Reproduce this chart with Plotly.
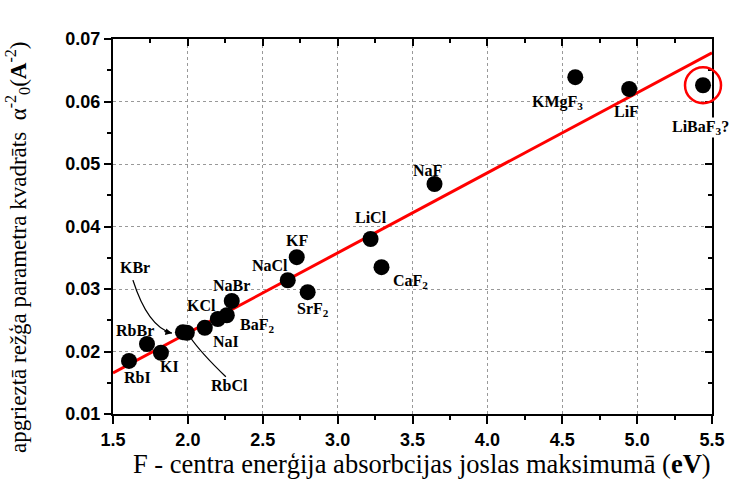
import plotly.graph_objects as go

# F-centre absorption maximum (eV) vs. inverse square of the lattice parameter
crystals = ["RbI", "RbBr", "KI", "KBr", "RbCl", "NaI", "KCl", "BaF<sub>2</sub>",
            "NaBr", "NaCl", "KF", "SrF<sub>2</sub>", "LiCl", "CaF<sub>2</sub>",
            "NaF", "KMgF<sub>3</sub>", "LiF", "LiBaF<sub>3</sub>?"]
energy_ev = [1.607, 1.727, 1.82, 1.967, 1.993, 2.113, 2.2, 2.26,
             2.293, 2.667, 2.727, 2.8, 3.22, 3.293,
             3.647, 4.587, 4.947, 5.44]
inv_a2 = [0.0185, 0.0212, 0.0198, 0.0231, 0.0230, 0.0238, 0.0252, 0.0258,
          0.0281, 0.0314, 0.0351, 0.0295, 0.0380, 0.0335,
          0.0468, 0.0639, 0.0620, 0.0626]

# linear fit  y = a + b*x
fit_a = -0.00266
fit_b = 0.01281

x_range = [1.5, 5.5]
y_range = [0.01, 0.07]

W, H = 731, 497
ML, MR, MT, MB = 113, 19, 39, 83
PW, PH = W - ML - MR, H - MT - MB
px_x = PW / (x_range[1] - x_range[0])
px_y = PH / (y_range[1] - y_range[0])

# label offsets in pixels (dx right, dy down)
label_off = {
    "RbI": (8, 17), "RbBr": (-12, -14), "KI": (9, 14), "KBr": None, "RbCl": None,
    "NaI": (21, 14), "KCl": (-16, -14), "BaF<sub>2</sub>": (30, 10),
    "NaBr": (0, -15), "NaCl": (-18, -15), "KF": (0, -17),
    "SrF<sub>2</sub>": (5, 17), "LiCl": (0, -22), "CaF<sub>2</sub>": (29, 14),
    "NaF": (-7, -14), "KMgF<sub>3</sub>": (-18, 25), "LiF": (-3, 22),
    "LiBaF<sub>3</sub>?": (3, 42),
}

lab_font = dict(family="Liberation Serif", size=16, color="black", weight="bold")

fig = go.Figure()

fx = list(x_range)
fy = [fit_a + fit_b * v for v in fx]
fig.add_trace(go.Scatter(x=fx, y=fy, mode="lines",
                         line=dict(color="#ff0000", width=3), showlegend=False,
                         hoverinfo="skip"))
fig.add_trace(go.Scatter(x=energy_ev, y=inv_a2, mode="markers",
                         marker=dict(color="black", size=16), showlegend=False,
                         text=crystals))
# empty trace that carries the mirrored top/right axes
fig.add_trace(go.Scatter(x=[], y=[], xaxis="x2", yaxis="y2", showlegend=False))

annotations = []
for name, x, y in zip(crystals, energy_ev, inv_a2):
    off = label_off[name]
    if off is None:
        continue
    ann = dict(x=x, y=y, xref="x", yref="y", text=name, showarrow=False,
               xshift=off[0], yshift=-off[1], font=lab_font)
    if "?" in name:
        # last label sits over the right frame: keep it inside the page
        ann.update(bgcolor="white", borderpad=0, xanchor="right", xshift=27)
    annotations.append(ann)

kbr_i = crystals.index("KBr")
rbcl_i = crystals.index("RbCl")


def to_data(x0, y0, dx, dy):
    return x0 + dx / px_x, y0 - dy / px_y


# KBr label with curved pointer
kx, ky = energy_ev[kbr_i], inv_a2[kbr_i]
annotations.append(dict(x=kx, y=ky, xref="x", yref="y", text="KBr", showarrow=False,
                        xshift=-48, yshift=65, font=lab_font))
p0 = to_data(kx, ky, -50, -52)
c = to_data(kx, ky, -35, -5)
p2 = to_data(kx, ky, -11, 1)
kbr_path = f"M {p0[0]},{p0[1]} Q {c[0]},{c[1]} {p2[0]},{p2[1]}"
annotations.append(dict(x=p2[0], y=p2[1], xref="x", yref="y", text="", showarrow=True,
                        ax=-9, ay=-2, arrowhead=2, arrowsize=1, arrowwidth=1.3,
                        arrowcolor="black"))

# RbCl label with curved pointer
rx, ry = energy_ev[rbcl_i], inv_a2[rbcl_i]
annotations.append(dict(x=rx, y=ry, xref="x", yref="y", text="RbCl", showarrow=False,
                        xshift=43, yshift=-53, font=lab_font))
q0 = to_data(rx, ry, 39, 44)
qc = to_data(rx, ry, 14, 20)
q2 = to_data(rx, ry, 3, 4)
rbcl_path = f"M {q0[0]},{q0[1]} Q {qc[0]},{qc[1]} {q2[0]},{q2[1]}"

title_font = dict(family="Liberation Serif", size=23, color="black")

# y-axis title
annotations.append(dict(
    x=(17 - ML) / PW, y=(H - MB - 247) / PH,
    xref="paper", yref="paper", xanchor="center", yanchor="middle",
    text="apgrieztā režģa parametra kvadrāts  α<sup>-2</sup><sub>0</sub>(<b>A</b><sup>-2</sup>)",
    textangle=-90, showarrow=False, font=title_font))

# x-axis title
annotations.append(dict(
    x=(422 - ML) / PW, y=(H - MB - 464) / PH,
    xref="paper", yref="paper", xanchor="center", yanchor="middle",
    text="F - centra enerģija absorbcijas joslas maksimumā (<b>eV</b>)",
    showarrow=False, font=dict(family="Liberation Serif", size=26.5, color="black")))

# highlight ring around the last crystal
li_i = len(crystals) - 1
ring_x = (energy_ev[li_i] - x_range[0]) / (x_range[1] - x_range[0])
ring_y = (inv_a2[li_i] - y_range[0]) / (y_range[1] - y_range[0])

shapes = [
    dict(type="path", path=kbr_path, xref="x", yref="y",
         line=dict(color="black", width=1.3)),
    dict(type="path", path=rbcl_path, xref="x", yref="y",
         line=dict(color="black", width=1.3)),
    dict(type="circle", xref="paper", yref="paper", xsizemode="pixel", ysizemode="pixel",
         xanchor=ring_x, yanchor=ring_y, x0=-18, x1=18, y0=-18, y1=18,
         line=dict(color="#ff0000", width=2.5)),
]

tick_font = dict(family="Liberation Sans", size=18, color="black", weight="bold")

fig.update_layout(
    width=W, height=H,
    margin=dict(l=ML, r=MR, t=MT, b=MB, autoexpand=False),
    paper_bgcolor="white", plot_bgcolor="white",
    showlegend=False,
    annotations=annotations,
    shapes=shapes,
    xaxis=dict(range=x_range, dtick=0.5, tick0=1.5, tickformat=".1f", automargin=False,
               showline=True, linecolor="black", linewidth=2,
               ticks="outside", ticklen=8, tickwidth=2, tickcolor="black",
               minor=dict(ticks="outside", dtick=0.25, ticklen=4, tickwidth=2,
                          tickcolor="black", showgrid=False),
               showgrid=True, gridcolor="#999999", gridwidth=1, griddash="dot",
               zeroline=False, tickfont=tick_font),
    yaxis=dict(range=y_range, dtick=0.01, tick0=0.01, tickformat=".2f", automargin=False,
               showline=True, linecolor="black", linewidth=2,
               ticks="outside", ticklen=7, tickwidth=2, tickcolor="black",
               minor=dict(ticks="outside", dtick=0.005, ticklen=4, tickwidth=2,
                          tickcolor="black", showgrid=False),
               showgrid=True, gridcolor="#999999", gridwidth=1, griddash="dot",
               zeroline=False, tickfont=tick_font),
    xaxis2=dict(range=x_range, overlaying="x", side="top", dtick=0.5, tick0=1.5,
                automargin=False,
                showline=True, linecolor="black", linewidth=2,
                ticks="inside", ticklen=7, tickwidth=2, tickcolor="black",
                minor=dict(ticks="inside", dtick=0.25, ticklen=4, tickwidth=2,
                           tickcolor="black", showgrid=False),
                showticklabels=False, showgrid=False, zeroline=False),
    yaxis2=dict(range=y_range, overlaying="y", side="right", dtick=0.01, tick0=0.01,
                automargin=False,
                showline=True, linecolor="black", linewidth=2,
                ticks="inside", ticklen=7, tickwidth=2, tickcolor="black",
                minor=dict(ticks="inside", dtick=0.005, ticklen=4, tickwidth=2,
                           tickcolor="black", showgrid=False),
                showticklabels=False, showgrid=False, zeroline=False),
)

fig.write_html("out.html")
